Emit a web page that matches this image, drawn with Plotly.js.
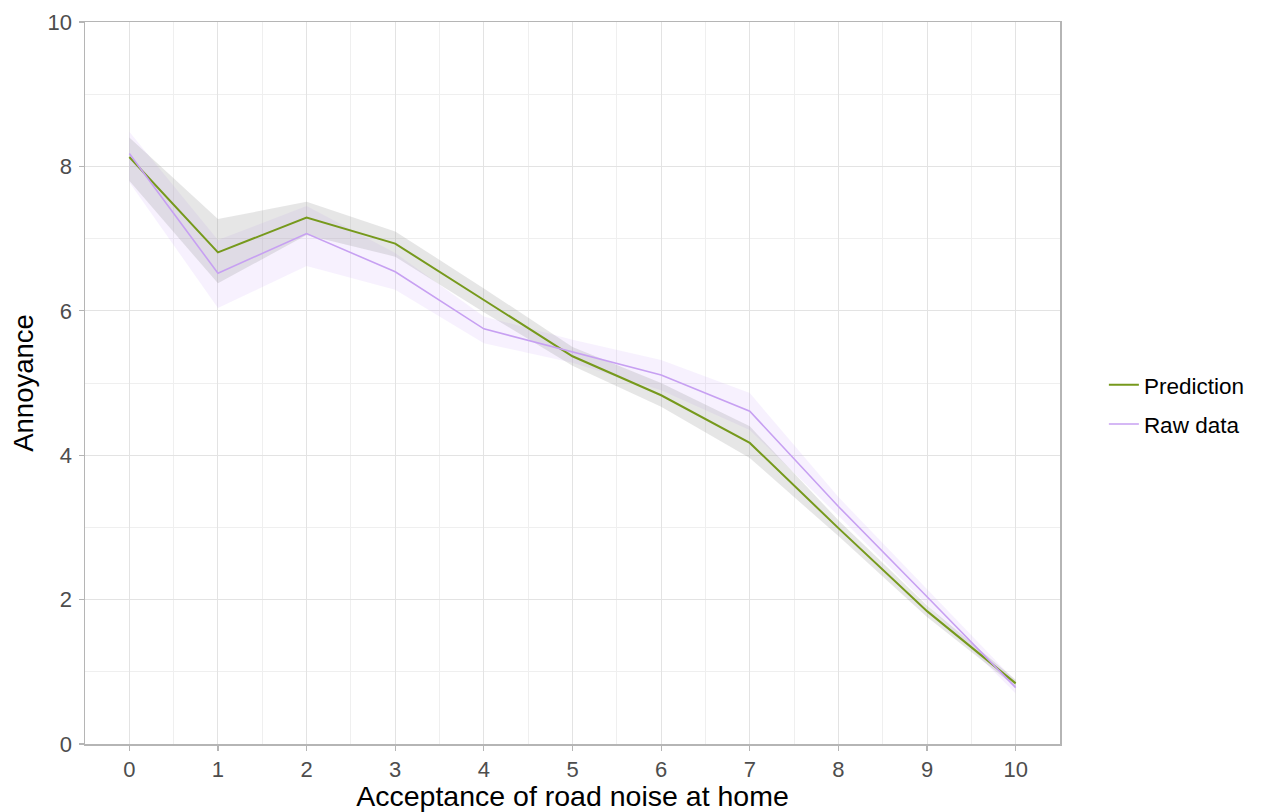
<!DOCTYPE html>
<html>
<head>
<meta charset="utf-8">
<script src="https://cdn.plot.ly/plotly-3.0.1.min.js"></script>
<style>
html,body{margin:0;padding:0;background:#fff;}
#chart{width:1274px;height:812px;}
</style>
</head>
<body>
<div id="chart"></div>
<script>
var acceptance = [0,1,2,3,4,5,6,7,8,9,10];
var predMean  = [8.13, 6.81, 7.29, 6.93, 6.15, 5.37, 4.83, 4.17, 2.99, 1.84, 0.84];
var predLower = [7.80, 6.38, 7.05, 6.75, 5.98, 5.24, 4.67, 3.96, 2.88, 1.76, 0.79];
var predUpper = [8.40, 7.27, 7.51, 7.10, 6.31, 5.50, 5.00, 4.40, 3.10, 1.92, 0.89];
var rawMean   = [8.18, 6.52, 7.07, 6.54, 5.75, 5.43, 5.11, 4.61, 3.29, 2.04, 0.78];
var rawLower  = [7.78, 6.04, 6.62, 6.29, 5.55, 5.28, 4.90, 4.35, 3.16, 1.93, 0.70];
var rawUpper  = [8.48, 6.98, 7.45, 6.80, 5.92, 5.60, 5.32, 4.86, 3.42, 2.15, 0.87];
var seriesNames = ["Prediction", "Raw data"];
var xTitle = "Acceptance of road noise at home";
var yTitle = "Annoyance";

function band(lo, hi, color) {
  return {
    x: acceptance.concat(acceptance.slice().reverse()),
    y: hi.concat(lo.slice().reverse()),
    type: "scatter", mode: "lines", fill: "toself",
    fillcolor: color, line: {width: 0, color: "rgba(0,0,0,0)"},
    hoverinfo: "skip", showlegend: false
  };
}

var traces = [
  band(rawLower, rawUpper, "rgba(205,165,250,0.16)"),
  band(predLower, predUpper, "rgba(140,140,140,0.22)"),
  {x: acceptance, y: predMean, type: "scatter", mode: "lines", name: seriesNames[0],
   legendgroup: "a", line: {color: "#76991c", width: 2}},
  {x: acceptance, y: rawMean, type: "scatter", mode: "lines", name: seriesNames[1],
   legendgroup: "b", line: {color: "#c7a0f2", width: 1.6}}
];

var axisCommon = {
  showline: true, linecolor: "#b5b5b5", linewidth: 1.5, mirror: true,
  ticks: "outside", ticklen: 5, tickcolor: "#b5b5b5", tickwidth: 1.2,
  gridcolor: "#e3e3e3", gridwidth: 1, zeroline: false,
  tickfont: {family: "Liberation Sans, Arial, sans-serif", size: 22, color: "#4d4d4d"}
};

var layout = {
  width: 1274, height: 812,
  margin: {l: 85, r: 214, t: 22, b: 68},
  paper_bgcolor: "#fff", plot_bgcolor: "#fff",
  font: {family: "Liberation Sans, Arial, sans-serif"},
  xaxis: Object.assign({}, axisCommon, {
    range: [-0.5, 10.5], tickmode: "linear", tick0: 0, dtick: 1,
    ticklabelstandoff: 0,
    minor: {dtick: 0.5, showgrid: true, gridcolor: "#efefef", gridwidth: 1},
    title: {text: xTitle, font: {size: 28.5, color: "#000"}, standoff: 2}
  }),
  yaxis: Object.assign({}, axisCommon, {
    range: [0, 10], tickmode: "linear", tick0: 0, dtick: 2,
    ticklabelstandoff: 2,
    minor: {dtick: 1, showgrid: true, gridcolor: "#efefef", gridwidth: 1},
    title: {text: yTitle, font: {size: 27.5, color: "#000"}, standoff: 6}
  }),
  legend: {x: 1.045, y: 0.47, xanchor: "left", yanchor: "middle",
    font: {size: 22.5, color: "#000"}, bgcolor: "rgba(0,0,0,0)", tracegroupgap: 7},
  showlegend: true
};

Plotly.newPlot("chart", traces, layout, {displayModeBar: false, staticPlot: true});
</script>
</body>
</html>
